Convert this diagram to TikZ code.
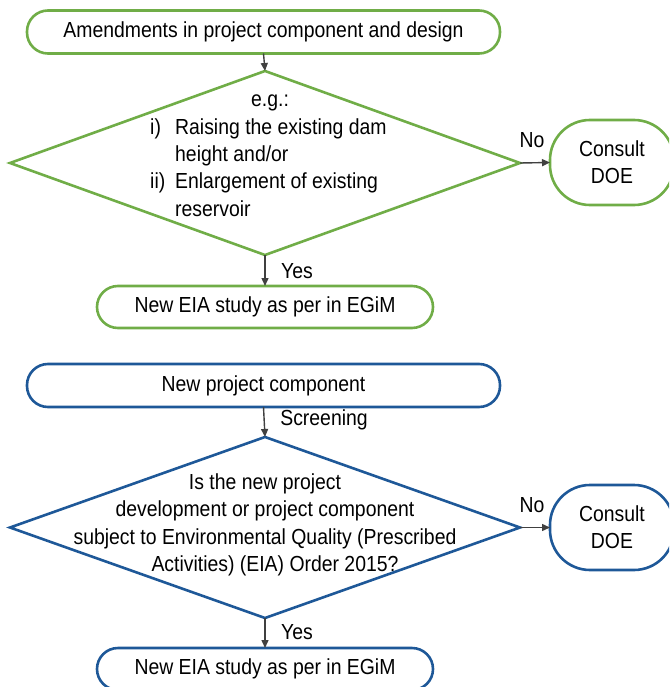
\documentclass[tikz,border=0pt]{standalone}
\usepackage{fontspec}
\setmainfont{Liberation Sans}[FakeStretch=0.89]
\usetikzlibrary{shapes.geometric,arrows.meta}
\definecolor{flgreen}{RGB}{112,173,71}
\definecolor{flblue}{RGB}{30,88,152}
\definecolor{arrowgray}{RGB}{64,64,64}
\tikzset{
  every node/.style={font=\fontsize{21.8}{27.3}\selectfont, text=black},
  stadium/.style={draw, line width=2.6pt, rectangle, rounded corners=21pt, inner sep=0pt, outer sep=0pt},
  decision/.style={draw, line width=2.6pt, diamond, inner sep=0pt, outer sep=0pt, minimum width=510pt},
  consult/.style={draw, line width=2.6pt, rectangle, rounded corners=40pt, minimum width=124pt, minimum height=85pt, inner sep=0pt, outer sep=0pt, align=center},
  flowarrow/.style={draw=arrowgray, line width=1.4pt, -{Triangle[width=7pt,length=8pt]}},
  lbl/.style={inner sep=0pt}
}
\begin{document}
\begin{tikzpicture}[x=1pt,y=-1pt]
\useasboundingbox (0,0) rectangle (669,687);
\clip (0,0) rectangle (669,687);
% ---------- green part ----------
\node[stadium, draw=flgreen, minimum width=473pt, minimum height=43pt] (g1) at (263.5,32) {Amendments in project component and design};
\node[decision, draw=flgreen, minimum height=184pt] (gd) at (265,163) {};
\node[lbl, align=left, anchor=north west] (gdtext) at (150,95) {%
  \makebox[0pt][l]{\hspace*{101pt}e.g.:}\\
  \makebox[25pt][l]{i)}Raising the existing dam\\
  \hspace*{25pt}height and/or\\
  \makebox[25pt][l]{ii)}Enlargement of existing\\
  \hspace*{25pt}reservoir};
\node[consult, draw=flgreen] (gc) at (612,162.5) {Consult\\DOE};
\node[stadium, draw=flgreen, minimum width=336pt, minimum height=42pt] (g2) at (265,307) {New EIA study as per in EGiM};
\draw[flowarrow] (g1.south) -- (gd.north);
\draw[flowarrow] (gd.east) -- (gc.west);
\draw[flowarrow] (gd.south) -- (g2.north);
\node[lbl] (gno) at (532,140) {No};
\node[lbl] (gyes) at (297,271) {Yes};
% ---------- blue part ----------
\node[stadium, draw=flblue, minimum width=473pt, minimum height=43pt] (b1) at (263.5,385.5) {New project component};
\node[decision, draw=flblue, minimum height=181pt] (bd) at (265,527.5) {};
\node[lbl, align=center] (bdtext) at (265,525) {Is the new project\\development or project component\\subject to Environmental Quality (Prescribed\\\hspace*{20pt}Activities) (EIA) Order 2015?};
\node[consult, draw=flblue] (bc) at (612,527.5) {Consult\\DOE};
\node[stadium, draw=flblue, minimum width=336pt, minimum height=42pt] (b2) at (265,669) {New EIA study as per in EGiM};
\draw[flowarrow] (b1.south) -- (bd.north);
\draw[flowarrow] (bd.east) -- (bc.west);
\draw[flowarrow] (bd.south) -- (b2.north);
\node[lbl] (bscr) at (324,420) {Screening};
\node[lbl] (bno) at (532,505) {No};
\node[lbl] (byes) at (297,632) {Yes};
\end{tikzpicture}
\end{document}
